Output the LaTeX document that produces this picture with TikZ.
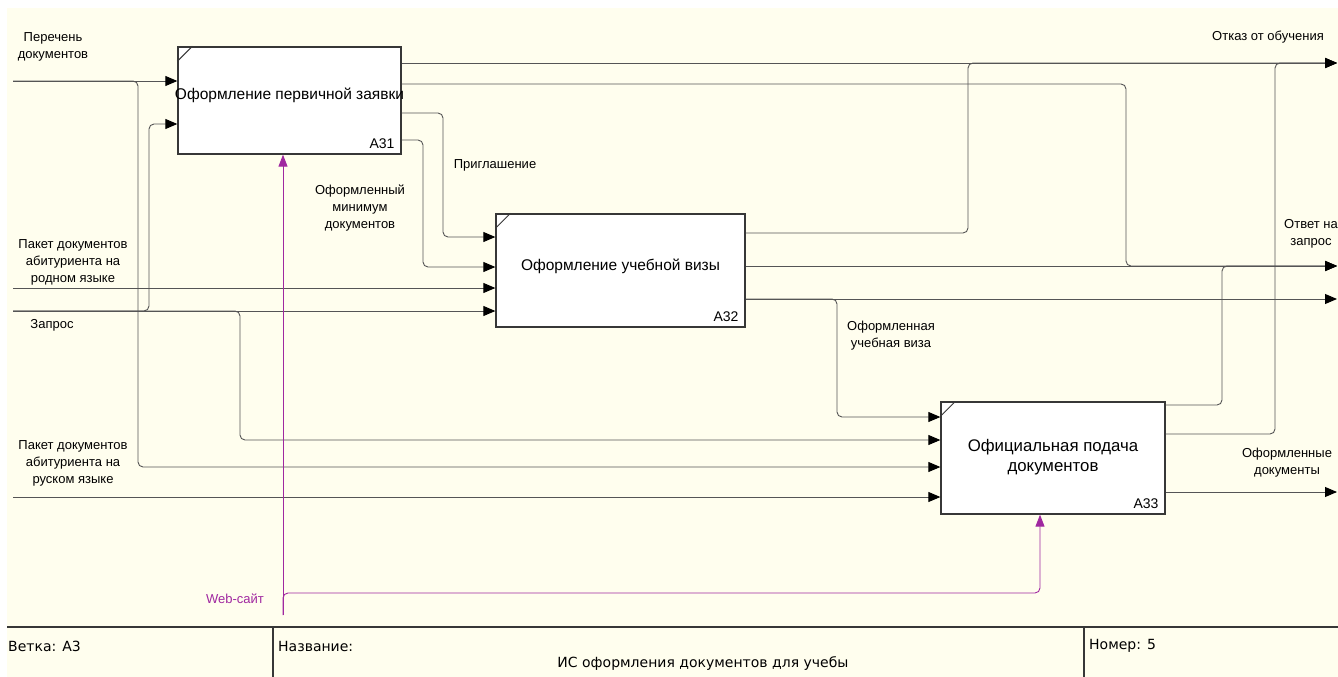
\documentclass[tikz,border=0pt]{standalone}
\usepackage{fontspec}
\setmainfont{Liberation Sans}
\newfontfamily\footfont{DejaVu Sans}
\usetikzlibrary{arrows.meta,positioning}
\definecolor{paper}{RGB}{255,254,238}
\definecolor{edge}{RGB}{55,55,55}
\definecolor{wire}{RGB}{85,85,85}
\definecolor{webcol}{RGB}{160,40,160}
\begin{document}
\begin{tikzpicture}[x=1pt,y=-1pt,
		func/.style={draw=edge, line width=1.3pt, fill=white, inner sep=0pt},
		ftext/.style={font=\fontsize{15.5}{19}\selectfont, align=center, inner sep=0pt},
		flow/.style={draw=wire, line width=0.9pt, rounded corners=5pt, -{Triangle[length=12pt,width=10pt,color=black]}},
		mech/.style={draw=webcol, line width=0.9pt, rounded corners=5pt, -{Triangle[length=12pt,width=9pt,color=webcol]}},
		lbl/.style={font=\fontsize{13}{17}\selectfont, align=center, inner sep=0pt},
		code/.style={font=\fontsize{14}{16}\selectfont, anchor=base east, inner sep=0pt},
		foot/.style={font=\footfont\fontsize{14}{16}\selectfont, anchor=west, inner sep=0pt}]
	\useasboundingbox (0,0) rectangle (1338,677);
	\fill[paper] (7,8) rectangle (1338,677);
	\node[func, minimum width=223pt, minimum height=107pt] (a31) at (289.5,100.5) {};
	\node[func, minimum width=249pt, minimum height=113pt] (a32) at (620.5,270.5) {};
	\node[func, minimum width=224pt, minimum height=112pt] (a33) at (1053,458) {};
	\node[ftext] (a31t) at (289.5,95) {Оформление первичной заявки};
	\node[ftext] (a32t) at (620.5,266) {Оформление учебной визы};
	\node[ftext, font=\fontsize{16.8}{20}\selectfont] (a33t) at (1053,457) {Официальная подача\\документов};
	\foreach \b\n in {a31/A31,a32/A32,a33/A33}{
		\draw[edge, line width=1pt] (\b.north west) ++(0,15) -- ++(15,-15);
		\node[code] (\b-no) at ([xshift=-7pt,yshift=6pt]\b.south east) {\n};
	}
	\coordinate (perechen) at (13,81);
	\coordinate (rodnoy) at (13,288);
	\coordinate (zapros) at (13,311);
	\coordinate (russkiy) at (13,497);
	\coordinate (otkaz) at (1337,63);
	\coordinate (otvet) at (1337,266);
	\coordinate (vizaout) at (1337,299);
	\coordinate (gotovo) at (1337,492);
	\coordinate (web) at (283,615);
	\coordinate (webturn) at (1040,593);
	\draw[flow] (perechen) -- (perechen -| a31.west);
	\draw[flow] (perechen) -| (138,467) -- (a33.west |- 0,467);
	\draw[flow] (rodnoy) -- (rodnoy -| a32.west);
	\draw[flow] (zapros) -- (zapros -| a32.west);
	\draw[flow] (zapros) -| (149,124) -- (a31.west |- 0,124);
	\draw[flow] (zapros) -| (240,440) -- (a33.west |- 0,440);
	\draw[flow] (russkiy) -- (russkiy -| a33.west);
	\draw[flow] (a31.east |- 0,63) -- (otkaz);
	\draw[flow] (a31.east |- 0,84) -| (1126,266) -- (otvet);
	\draw[flow] (a31.east |- 0,113) -| (443,237) -- (a32.west |- 0,237);
	\draw[flow] (a31.east |- 0,140) -| (423,267) -- (a32.west |- 0,267);
	\draw[flow] (a32.east |- 0,233) -| (968,63) -- (otkaz);
	\draw[flow] (a32.east |- 0,266) -- (otvet);
	\draw[flow] (a32.east |- 0,299) -- (vizaout);
	\draw[flow] (a32.east |- 0,299) -| (837,417) -- (a33.west |- 0,417);
	\draw[flow] (a33.east |- 0,405) -| (1222,266) -- (otvet);
	\draw[flow] (a33.east |- 0,434) -| (1275,63) -- (otkaz);
	\draw[flow] (a33.east |- 0,492) -- (gotovo);
	\draw[mech] (web) -- (web |- a31.south);
	\draw[mech] (web) |- (webturn) -- (webturn |- a33.south);
	\node[lbl] (l-perechen) at (53,47) {Перечень\\документов};
	\node[lbl] (l-rodnoy) at (73,262) {Пакет документов\\абитуриента на\\родном языке};
	\node[lbl] (l-zapros) at (52,325) {Запрос};
	\node[lbl] (l-russkiy) at (73,463) {Пакет документов\\абитуриента на\\руском языке};
	\node[lbl] (l-minimum) at (360,208) {Оформленный\\минимум\\документов};
	\node[lbl] (l-priglash) at (495,165) {Приглашение};
	\node[lbl] (l-viza) at (891,336) {Оформленная\\учебная виза};
	\node[lbl] (l-otkaz) at (1268,37) {Отказ от обучения};
	\node[lbl] (l-otvet) at (1311,234) {Ответ на\\запрос};
	\node[lbl] (l-gotovo) at (1287,463) {Оформленные\\документы};
	\node[lbl, text=webcol] (l-web) at (235,599) {Web-сайт};
	\draw[edge, line width=2pt] (7,627) -- (1338,627);
	\draw[edge, line width=2pt] (273,627) -- (273,677);
	\draw[edge, line width=2pt] (1084,627) -- (1084,677);
	\foreach \x\t\n in {8/Ветка: A3/vetka, 278/Название:/nazv, 1089/Номер: 5/nomer}{
		\node[foot] (\n) at (\x,646) {\t};
	}
	\node[foot, anchor=center] (title) at (703,664) {ИС оформления документов для учебы};
\end{tikzpicture}
\end{document}
